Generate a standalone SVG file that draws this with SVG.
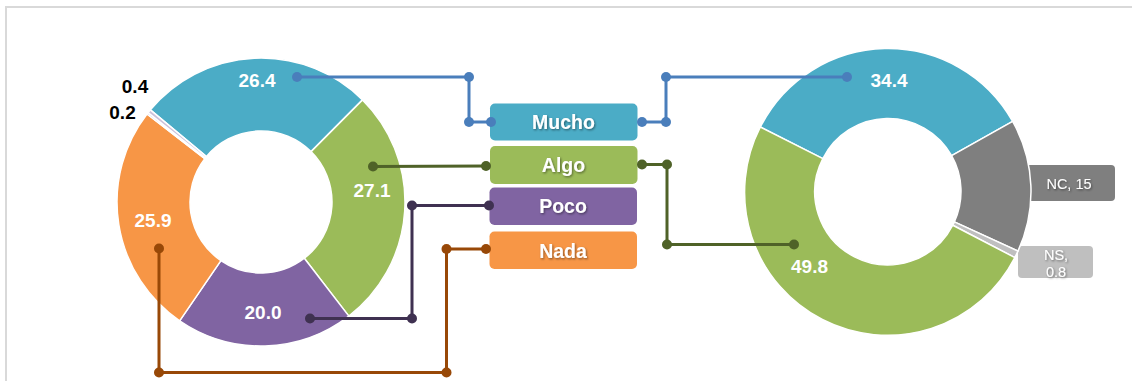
<svg xmlns="http://www.w3.org/2000/svg" width="1132" height="381" viewBox="0 0 1132 381">
<defs>
<filter id="sh" x="-20%" y="-30%" width="140%" height="160%">
<feDropShadow dx="1" dy="1.2" stdDeviation="0.8" flood-color="#000" flood-opacity="0.45"/>
</filter>
</defs>
<style>
.seg{stroke:#fff;stroke-width:1.5;stroke-linejoin:round}
.lbl{font-family:"Liberation Sans",Arial,sans-serif;font-weight:bold;font-size:19px;fill:#fff;text-anchor:middle}
.blk{font-family:"Liberation Sans",Arial,sans-serif;font-weight:bold;font-size:19px;fill:#000;text-anchor:middle}
.small{font-family:"Liberation Sans",Arial,sans-serif;font-size:14.5px;fill:#fff;text-anchor:middle}
.leg{font-family:"Liberation Sans",Arial,sans-serif;font-weight:bold;font-size:19.5px;fill:#fff;text-anchor:middle}
.ln{fill:none;stroke-width:3;stroke-linejoin:miter}
.blue{stroke:#4a7ebb}.blue-d{fill:#4a7ebb}
.grn{stroke:#4f6228}.grn-d{fill:#4f6228}
.pur{stroke:#3f3151}.pur-d{fill:#3f3151}
.org{stroke:#984807}.org-d{fill:#984807}
</style>
<rect x="0" y="0" width="1132" height="381" fill="#fff"/>
<path d="M6,381 V7 H1132" fill="none" stroke="#d9d9d9" stroke-width="2"/>

<g id="donut-left">
<path class="seg" fill="#4bacc6" d="M150.36,109.83 A144,144 0 0 1 362.53,99.89 L311.06,151.65 A71,71 0 0 0 206.45,156.55 Z"/>
<path class="seg" fill="#9bbb59" d="M362.53,99.89 A144,144 0 0 1 348.85,316.09 L304.32,258.25 A71,71 0 0 0 311.06,151.65 Z"/>
<path class="seg" fill="#8064a2" d="M348.85,316.09 A144,144 0 0 1 179.64,320.81 L220.88,260.58 A71,71 0 0 0 304.32,258.25 Z"/>
<path class="seg" fill="#f79646" d="M179.64,320.81 A144,144 0 0 1 147.01,114.02 L204.80,158.62 A71,71 0 0 0 220.88,260.58 Z"/>
<path class="seg" fill="#b3a2c7" stroke-width="0.5" d="M147.01,114.02 A144,144 0 0 1 148.09,112.63 L205.33,157.94 A71,71 0 0 0 204.80,158.62 Z"/>
<path class="seg" fill="#ccc1da" stroke-width="0.5" d="M148.09,112.63 A144,144 0 0 1 150.36,109.83 L206.45,156.55 A71,71 0 0 0 205.33,157.94 Z"/>
<text class="lbl" x="257" y="87">26.4</text>
<text class="lbl" x="372" y="197">27.1</text>
<text class="lbl" x="153" y="227">25.9</text>
<text class="lbl" x="263" y="319">20.0</text>
<text class="blk" x="135" y="92.5">0.4</text>
<text class="blk" x="122.5" y="119">0.2</text>
</g>

<g id="nc-label">
<rect x="990" y="165" width="125" height="36" rx="4" fill="#7f7f7f"/>
<text class="small" x="1069" y="189.3" filter="url(#sh)">NC, 15</text>
</g>
<g id="ns-label">
<rect x="1018" y="246" width="75" height="32" rx="4" fill="#bfbfbf"/>
<text class="small" x="1056" y="260" filter="url(#sh)">NS,</text>
<text class="small" x="1056" y="276.5" filter="url(#sh)">0.8</text>
</g>

<g id="donut-right">
<path class="seg" fill="#4bacc6" d="M760.36,127.02 A143,143 0 0 1 1012.64,121.37 L951.63,155.70 A73,73 0 0 0 822.84,158.58 Z"/>
<path class="seg" fill="#7f7f7f" d="M1012.64,121.37 A143,143 0 0 1 1017.97,251.10 L954.35,221.93 A73,73 0 0 0 951.63,155.70 Z"/>
<path class="seg" fill="#bfbfbf" d="M1017.97,251.10 A143,143 0 0 1 1014.83,257.57 L952.74,225.23 A73,73 0 0 0 954.35,221.93 Z"/>
<path class="seg" fill="#9bbb59" d="M1014.83,257.57 A143,143 0 0 1 760.36,127.02 L822.84,158.58 A73,73 0 0 0 952.74,225.23 Z"/>
<text class="lbl" x="889" y="86.5">34.4</text>
<text class="lbl" x="809.5" y="273.3">49.8</text>
</g>

<g id="legend-mucho">
<rect x="490" y="103.5" width="147.5" height="37" rx="5" fill="#4bacc6"/>
<text class="leg" x="563.5" y="129" filter="url(#sh)">Mucho</text>
</g>
<g id="legend-algo">
<rect x="490" y="146" width="147.5" height="38" rx="5" fill="#9bbb59"/>
<text class="leg" x="563.5" y="172" filter="url(#sh)">Algo</text>
</g>
<g id="legend-poco">
<rect x="489.5" y="187.5" width="147.5" height="37.5" rx="5" fill="#8064a2"/>
<text class="leg" x="563" y="213" filter="url(#sh)">Poco</text>
</g>
<g id="legend-nada">
<rect x="489.5" y="231.5" width="147.5" height="37.5" rx="5" fill="#f79646"/>
<text class="leg" x="563" y="257.5" filter="url(#sh)">Nada</text>
</g>

<g id="connectors">
<polyline class="ln blue" points="297,77 469,77 469,122 491,122"/>
<circle class="blue-d" cx="297" cy="77" r="5"/><circle class="blue-d" cx="469" cy="77" r="5"/><circle class="blue-d" cx="469" cy="122" r="5"/><circle class="blue-d" cx="491" cy="122" r="5"/>
<polyline class="ln blue" points="642,122 666,122 666,77 847,77"/>
<circle class="blue-d" cx="642" cy="122" r="5"/><circle class="blue-d" cx="666" cy="122" r="5"/><circle class="blue-d" cx="666" cy="77" r="5"/><circle class="blue-d" cx="847" cy="77" r="5"/>
<polyline class="ln grn" points="373,166.5 486,166"/>
<circle class="grn-d" cx="373" cy="166.5" r="5"/><circle class="grn-d" cx="486" cy="166" r="5"/>
<polyline class="ln grn" points="642,164.5 667,164.5 667,244.5 794,244.5"/>
<circle class="grn-d" cx="642" cy="164.5" r="5"/><circle class="grn-d" cx="667" cy="164.5" r="5"/><circle class="grn-d" cx="667" cy="244.5" r="5"/><circle class="grn-d" cx="794" cy="244.5" r="5"/>
<polyline class="ln pur" points="310,318.5 412,318.5 412,205.5 489,205.5"/>
<circle class="pur-d" cx="310" cy="318.5" r="5"/><circle class="pur-d" cx="412" cy="318.5" r="5"/><circle class="pur-d" cx="412" cy="205.5" r="5"/><circle class="pur-d" cx="489" cy="205.5" r="5"/>
<polyline class="ln org" points="159,248.5 159,372.5 446.5,372.5 446.5,249 486,249"/>
<circle class="org-d" cx="159" cy="248.5" r="5"/><circle class="org-d" cx="159" cy="372.5" r="5"/><circle class="org-d" cx="446.5" cy="372.5" r="5"/><circle class="org-d" cx="446.5" cy="249" r="5"/><circle class="org-d" cx="486" cy="249" r="5"/>
</g>
</svg>
